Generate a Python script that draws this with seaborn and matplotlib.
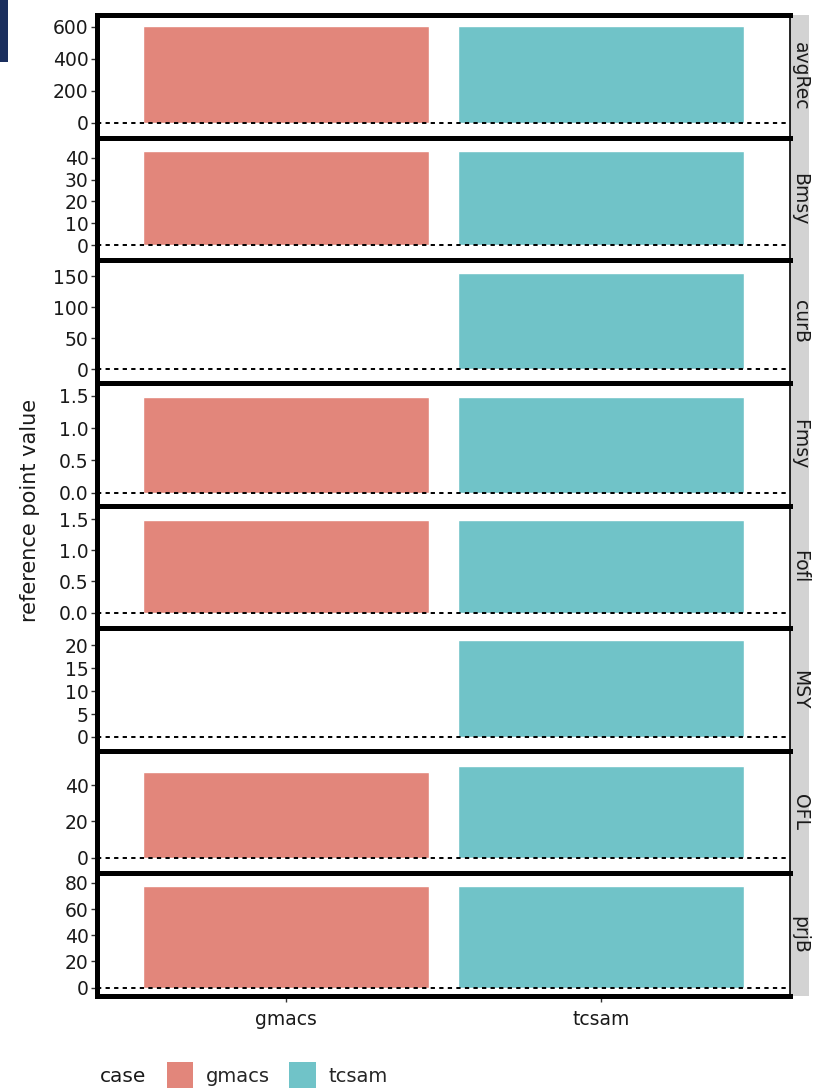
import numpy as np
import pandas as pd
import matplotlib
matplotlib.use("Agg")
import matplotlib.pyplot as plt
from matplotlib.patches import Patch, Rectangle
import seaborn as sns

# reference point values (NaN = no bar)
metrics = ["avgRec", "Bmsy", "curB", "Fmsy", "Fofl", "MSY", "OFL", "prjB"]
cases = ["gmacs", "tcsam"]
gmacs_vals = [603, 43.3, np.nan, 1.48, 1.48, np.nan, 47.6, 77.5]
tcsam_vals = [603, 43.3, 155, 1.48, 1.48, 21.1, 50.8, 77.5]

# y tick marks per panel
yticks = {
    "avgRec": [0, 200, 400, 600],
    "Bmsy": [0, 10, 20, 30, 40],
    "curB": [0, 50, 100, 150],
    "Fmsy": [0.0, 0.5, 1.0, 1.5],
    "Fofl": [0.0, 0.5, 1.0, 1.5],
    "MSY": [0, 5, 10, 15, 20],
    "OFL": [0, 20, 40],
    "prjB": [0, 20, 40, 60, 80],
}
ylims = {
    "avgRec": (-94, 675),
    "Bmsy": (-6.9, 49.2),
    "curB": (-22.3, 175.5),
    "Fmsy": (-0.2, 1.70),
    "Fofl": (-0.25, 1.72),
    "MSY": (-3.0, 23.7),
    "OFL": (-8.8, 59.2),
    "prjB": (-6.4, 87.2),
}

palette = {"gmacs": "#E2867B", "tcsam": "#70C3C8"}

df = pd.DataFrame({
    "metric": np.repeat(metrics, 2),
    "case": cases * len(metrics),
    "value": np.ravel(np.column_stack([gmacs_vals, tcsam_vals])),
})

sns.set_theme(style="white")
plt.rcParams["font.family"] = ["DejaVu Sans"]

fig, axes = plt.subplots(len(metrics), 1, figsize=(8.18, 10.88), dpi=100, sharex=True)
fig.subplots_adjust(left=97 / 818, right=790 / 818, top=1 - 15 / 1088,
                    bottom=1 - 996 / 1088, hspace=0)

for ax, m in zip(axes, metrics):
    sub = df[df["metric"] == m].dropna(subset=["value"])
    sns.barplot(data=sub, x="case", y="value", hue="case", order=cases,
                hue_order=cases, palette=palette, width=0.905, legend=False,
                saturation=1, ax=ax)
    ax.axhline(0, color="black", linestyle=(0, (2.2, 2.2)), linewidth=1.4, zorder=5)
    ax.set_xlim(-0.6, 1.6)
    ax.set_ylim(*ylims[m])
    ax.set_yticks(yticks[m])
    ax.set_yticklabels([f"{t:g}" if m not in ("Fmsy", "Fofl") else f"{t:.1f}"
                        for t in yticks[m]])
    ax.set_ylabel("")
    ax.set_xlabel("")
    ax.tick_params(axis="y", left=True, length=4, width=1, color="#333333",
                   labelsize=13.5, pad=2, labelcolor="#1a1a1a")
    ax.tick_params(axis="x", bottom=True, length=4, width=1, color="#333333",
                   labelsize=13.5, pad=6, labelcolor="#1a1a1a")
    for side in ("top", "bottom", "left"):
        ax.spines[side].set_linewidth(3.6)
        ax.spines[side].set_color("black")
    ax.spines["right"].set_linewidth(1.2)
    ax.spines["right"].set_color("black")
    # facet strip on the right
    ax.add_patch(Rectangle((1.0, 0), 19 / 693, 1, transform=ax.transAxes,
                           facecolor="#D3D3D3", edgecolor="none", clip_on=False,
                           zorder=0))
    ax.text(1.0 + 10 / 693, 0.5, m, transform=ax.transAxes, rotation=-90,
            ha="center", va="center", fontsize=13.5, color="#1a1a1a")

fig.text(30 / 818, 1 - 510 / 1088, "reference point value", rotation=90,
         ha="center", va="center", fontsize=15, color="#1a1a1a")

# legend along the bottom
fig.text(100 / 818, 1 - 1076 / 1088, "case", ha="left", va="center",
         fontsize=14.5, color="#1a1a1a")
handles = [Patch(facecolor=palette[c], edgecolor="none", label=c) for c in cases]
fig.legend(handles=handles, loc="center left", ncol=2, frameon=False,
           bbox_to_anchor=(167 / 818, 1 - 1076 / 1088), fontsize=14,
           handlelength=1.35, handleheight=1.9, handletextpad=0.65,
           columnspacing=1.0, borderaxespad=0, borderpad=0)

# dark block in the top-left corner
fig.patches.append(Rectangle((0, 1 - 62 / 1088), 8 / 818, 62 / 1088,
                             transform=fig.transFigure, facecolor="#1B2F5E",
                             edgecolor="none"))

fig.savefig("out.png", dpi=100)
